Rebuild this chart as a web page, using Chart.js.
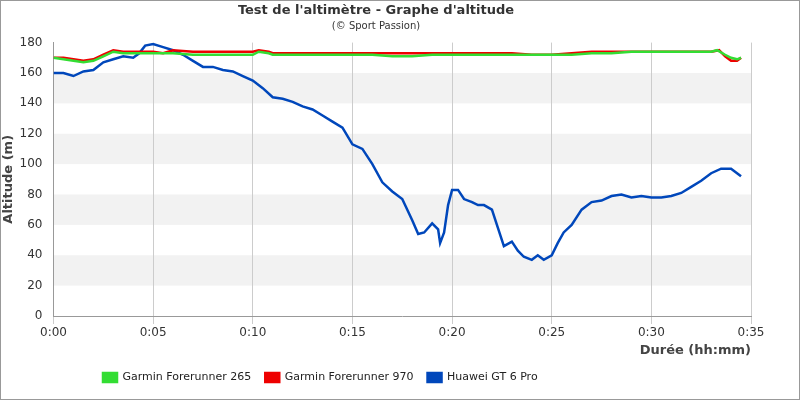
<!DOCTYPE html><html><head><script src="https://cdn.jsdelivr.net/npm/chart.js"></script>
<style>body{margin:0}#w{width:798px;height:398px;border:1px solid #999}</style></head><body><div id="w"><canvas id="c"></canvas></div><script>
const xTicks=[0,5,10,15,20,25,30,35];
const tGreen=[0,0.5,1,1.5,2,2.5,3,3.5,4,5,6,7,8,9,10,10.3,10.8,11,12,13,14,15,16,17,18,19,20,21,22,23,24,25,26,27,28,29,30,31,32,33,33.3,33.7,34,34.3,34.5];
const vGreen=[170,169,168,167,168,171,174,173,173,173,173,172,172,172,172,174,173,172,172,172,172,172,172,171,171,172,172,172,172,172,172,172,172,173,173,174,174,174,174,174,175,172,170,169,170];
const tRed=[0,0.5,1,1.5,2,2.5,3,3.5,4,5,5.5,6,7,8,9,10,10.3,10.8,11,12,13,14,15,16,17,18,19,20,21,22,23,24,25,26,27,28,29,30,31,32,33,33.4,33.7,34,34.3,34.5];
const vRed=[170,170,169,168,169,172,175,174,174,174,173,175,174,174,174,174,175,174,173,173,173,173,173,173,173,173,173,173,173,173,173,172,172,173,174,174,174,174,174,174,174,175,171,168,168,170];
const tBlue=[0,0.5,1,1.5,2,2.5,3,3.5,4,4.3,4.6,5,5.5,6,6.5,7,7.5,8,8.5,9,9.5,10,10.5,11,11.5,12,12.5,13,13.5,14,14.5,15,15.5,16,16.5,17,17.5,18,18.3,18.6,19,19.3,19.4,19.6,19.8,20,20.3,20.6,21,21.3,21.6,22,22.3,22.6,23,23.3,23.6,24,24.3,24.6,25,25.3,25.6,26,26.5,27,27.5,28,28.5,29,29.5,30,30.5,31,31.5,32,32.5,33,33.5,34,34.5];
const vBlue=[160,160,158,161,162,167,169,171,170,173,178,179,177,175,172,168,164,164,162,161,158,155,150,144,143,141,138,136,132,128,124,113,110,100,88,82,77,63,54,55,61,57,48,55,73,83,83,77,75,73,73,70,58,46,49,43,39,37,40,37,40,48,55,60,70,75,76,79,80,78,79,78,78,79,81,85,89,94,97,97,92];
const pts=(t,v)=>t.map((x,i)=>({x,y:v[i]}));
const bands={id:'bands',beforeDraw(c){const {ctx,chartArea:a,scales:{y}}=c;ctx.save();ctx.fillStyle='#f2f2f2';for(let b=20;b<180;b+=40){const t=y.getPixelForValue(b+20),bt=y.getPixelForValue(b);ctx.fillRect(a.left,t,a.right-a.left,bt-t);}ctx.restore();},
afterLayout(c){c.legend.left+=88;}};
const ds=(l,c,d)=>({label:l,data:d,borderColor:c,backgroundColor:c,borderWidth:2.5,pointRadius:0,tension:0});
new Chart(document.getElementById('c'),{type:'line',plugins:[bands],data:{datasets:[ds('Garmin Forerunner 265','#33dd33',pts(tGreen,vGreen)),ds('Garmin Forerunner 970','#ee0000',pts(tRed,vRed)),ds('Huawei GT 6 Pro','#0047bb',pts(tBlue,vBlue))]},
options:{animation:false,responsive:true,maintainAspectRatio:false,layout:{padding:{right:48,left:0,bottom:6}},
plugins:{title:{display:true,text:"Test de l'altimètre - Graphe d'altitude",font:{size:13,weight:'bold',family:'DejaVu Sans'},color:'#333',padding:{top:2,bottom:2}},
subtitle:{display:true,text:'(© Sport Passion)',font:{size:10,family:'DejaVu Sans'},color:'#333',padding:{bottom:10}},
legend:{position:'bottom',align:'start',labels:{boxWidth:14,boxHeight:9,font:{size:11,family:'DejaVu Sans'},color:'#222',padding:14},onClick:null}},
scales:{x:{type:'linear',min:0,max:35,afterBuildTicks:s=>{s.ticks=xTicks.map(v=>({value:v}))},ticks:{callback:v=>'0:'+String(v).padStart(2,'0'),font:{size:12,family:'DejaVu Sans'},color:'#333',maxRotation:0,padding:2},grid:{color:'#ccc'},border:{color:'#999'},
title:{display:true,text:'Durée (hh:mm)',align:'end',font:{size:13,weight:'bold',family:'DejaVu Sans'},color:'#444',padding:0}},
y:{min:0,max:180,ticks:{stepSize:20,font:{size:12,family:'DejaVu Sans'},color:'#333'},grid:{display:false},border:{color:'#999'},
title:{display:true,text:'Altitude (m)',font:{size:13,weight:'bold',family:'DejaVu Sans'},color:'#444',padding:0}}}}});
</script></body></html>
